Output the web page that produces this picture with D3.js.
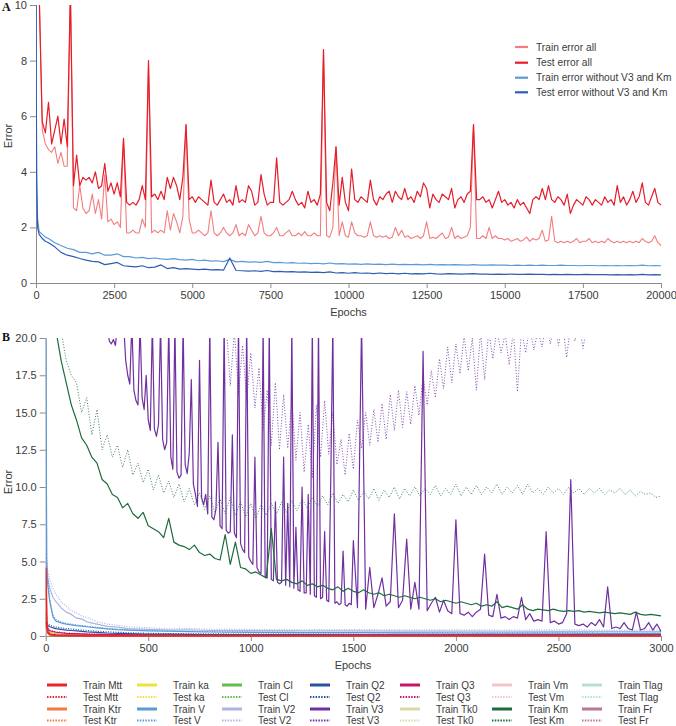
<!DOCTYPE html>
<html><head><meta charset="utf-8">
<script src="https://cdn.jsdelivr.net/npm/d3@7"></script>
<style>
body{margin:0;background:#fff;}
svg{display:block;font-family:"Liberation Sans",Arial,sans-serif;}
</style></head><body>
<svg id="chart" width="676" height="726"></svg>
<script>
// ---------------- Panel A data ----------------
const epochsA = d3.range(100, 20001, 100);
const trainAll = [
 10.5,5.5,5.0,4.8,4.7,4.9,4.3,4.7,4.2,4.2,
 10.5,2.7,2.6,3.5,2.7,2.5,2.6,3.2,2.5,3.0,
 2.3,3.9,2.2,2.3,2.1,2.2,2.0,5.2,1.8,1.8,
 1.9,1.8,1.8,2.3,2.0,7.8,1.8,1.9,1.8,1.9,
 1.8,2.6,1.9,2.5,2.2,1.8,2.4,5.7,2.3,1.8,
 1.8,1.9,1.8,1.7,1.8,2.6,1.8,1.7,1.8,2.0,
 1.8,1.7,1.8,2.1,1.7,1.8,1.7,2.1,1.9,1.7,
 1.8,2.4,1.8,1.7,1.7,1.8,2.0,1.7,1.7,1.8,
 1.9,1.7,1.7,1.8,1.7,1.85,1.7,1.7,1.8,1.7,
 1.7,8.4,1.7,1.65,2.0,4.9,1.7,2.2,1.7,1.65,
 2.2,1.8,1.7,1.7,1.65,1.7,2.2,1.7,1.65,1.7,
 1.65,1.7,1.6,1.65,2.0,1.7,1.9,1.65,1.7,1.6,
 1.65,1.7,1.6,1.7,2.2,1.6,1.65,1.6,1.7,1.8,
 1.6,1.65,2.0,1.6,1.7,1.6,1.65,1.7,2.0,5.7,
 1.6,1.6,1.7,1.6,2.0,1.6,1.7,1.6,1.6,1.55,
 1.6,1.5,1.55,1.6,1.5,1.55,1.65,1.5,1.6,1.55,
 1.6,1.9,1.5,1.55,2.4,1.5,1.45,1.5,1.45,1.5,
 1.45,1.5,1.6,1.45,1.5,1.5,1.6,1.45,1.5,1.45,
 1.5,1.45,1.6,1.5,1.45,1.5,1.45,1.5,1.45,1.5,
 1.45,1.5,1.45,1.6,1.5,1.45,1.5,1.7,1.45,1.35];
const testAll = [
 10.5,5.8,5.4,6.5,5.0,5.5,6.0,5.0,5.9,4.9,
 10.5,3.5,4.6,3.5,3.8,3.7,3.8,3.6,4.0,3.4,
 3.5,4.3,3.3,3.6,3.2,3.6,3.1,5.2,2.9,2.8,
 2.9,2.8,3.0,3.5,3.0,8.0,3.1,3.2,3.0,3.3,
 3.0,3.8,3.4,3.8,3.5,3.0,3.8,5.7,3.0,3.1,
 2.9,3.1,3.0,2.9,2.8,3.7,2.9,2.8,3.0,3.2,
 2.9,3.0,2.8,3.5,2.9,3.0,2.9,3.5,3.3,2.8,
 2.9,3.9,3.2,2.8,2.9,2.9,4.5,2.9,2.8,2.9,
 3.0,3.3,3.0,2.8,2.9,2.7,3.3,2.9,3.0,2.8,
 3.2,8.4,2.9,2.6,3.6,4.9,2.8,3.8,2.9,2.6,
 4.1,3.0,2.9,3.1,3.0,2.9,3.7,3.0,2.8,3.1,
 3.0,3.2,3.3,2.9,3.3,3.1,3.0,3.4,3.0,3.1,
 2.9,3.3,3.1,3.6,3.4,2.7,3.2,3.0,2.9,3.2,
 3.1,3.0,3.4,2.7,3.0,3.1,2.9,3.2,3.3,5.7,
 3.0,3.0,3.1,2.9,3.0,2.7,3.0,3.3,2.9,3.0,
 2.8,2.9,2.7,3.0,2.8,2.9,2.7,2.5,3.0,3.1,
 3.0,3.4,3.0,3.5,3.0,2.9,3.1,3.0,2.8,3.2,
 2.5,2.8,3.0,2.9,2.8,3.1,3.0,2.8,3.0,2.9,
 2.8,3.1,2.9,3.0,2.8,3.5,2.9,3.1,2.8,3.0,
 3.3,2.9,3.1,3.6,2.9,2.8,3.1,3.4,2.9,2.8];
const epochsBlue = [0,20,50,100,200,300].concat(d3.range(400, 20001, 200));
const trainWithout = [
 10.5,4.0,2.3,1.85,1.75,1.65,
 1.6,1.45,1.35,1.25,1.2,1.1,1.1,1.05,1.1,1.0,
 1.0,1.05,0.95,0.95,0.9,0.92,0.88,0.9,0.87,0.85,
 0.88,0.84,0.82,0.85,0.8,0.82,0.79,0.8,0.77,0.85,
 0.76,0.78,0.75,0.76,0.74,0.78,0.73,0.74,0.72,0.73,
 0.71,0.72,0.7,0.71,0.69,0.72,0.69,0.7,0.68,0.69,
 0.67,0.69,0.67,0.68,0.66,0.68,0.66,0.67,0.66,0.67,
 0.65,0.67,0.65,0.66,0.65,0.66,0.65,0.64,0.66,0.64,
 0.64,0.65,0.64,0.64,0.63,0.64,0.63,0.64,0.63,0.64,
 0.63,0.63,0.64,0.63,0.63,0.62,0.63,0.63,0.62,0.63,
 0.62,0.63,0.62,0.63,0.62,0.64,0.62,0.63,0.62];
const testWithout = [
 10.5,3.5,2.0,1.75,1.6,1.5,
 1.45,1.3,1.1,1.0,0.95,0.88,0.82,0.78,0.76,0.66,
 0.7,0.74,0.62,0.6,0.58,0.62,0.55,0.57,0.65,0.52,
 0.55,0.5,0.52,0.5,0.48,0.5,0.47,0.48,0.46,0.9,
 0.45,0.44,0.43,0.44,0.42,0.45,0.41,0.42,0.4,0.41,
 0.39,0.4,0.38,0.39,0.37,0.4,0.36,0.37,0.35,0.37,
 0.35,0.36,0.34,0.36,0.34,0.35,0.33,0.35,0.33,0.34,
 0.33,0.35,0.33,0.32,0.34,0.33,0.32,0.33,0.34,0.32,
 0.32,0.31,0.32,0.31,0.32,0.31,0.31,0.32,0.31,0.31,
 0.3,0.31,0.3,0.31,0.3,0.3,0.31,0.3,0.3,0.3,
 0.29,0.3,0.29,0.3,0.29,0.31,0.29,0.3,0.29];
const xTicksA = [0,2500,5000,7500,10000,12500,15000,17500,20000];
const yTicksA = [0,2,4,6,8,10];
const legendA = ["Train error all","Test error all","Train error without V3 and Km","Test error without V3 and Km"];

// ---------------- Panel B data ----------------
const params = ["Mtt","Ktr","ka","V","Cl","V2","Q2","V3","Q3","Tk0","Vm","Km","Tlag","Fr"];
const xTicksB = [0,500,1000,1500,2000,2500,3000];
const yTicksB = [0,2.5,5,7.5,10,12.5,15,17.5,20];
const gridCoarse = [0,5,10,20,50,100,200,400,800,1500,2200,3000];
const gridFine = [0,5,10,20,35,50,75,100,125,150,175,200,250,300,350,400,500,600,700,800,1000,1250,1500,1750,2000,2250,2500,2750,3000];

const trainMtt = [4.6,0.8,0.25,0.1,0.05,0.03,0.02,0.02,0.02,0.02,0.02,0.02];
const testMtt  = [4.4,1.0,0.3,0.12,0.06,0.04,0.03,0.02,0.02,0.02,0.02,0.02];
const trainKtr = [3.0,0.6,0.2,0.08,0.04,0.03,0.02,0.01,0.01,0.01,0.01,0.01];
const testKtr  = [3.2,0.7,0.22,0.1,0.05,0.03,0.02,0.02,0.01,0.01,0.01,0.01];
const trainKa  = [1.0,0.5,0.3,0.2,0.1,0.05,0.03,0.02,0.01,0.01,0.01,0.01];
const testKa   = [1.1,0.55,0.35,0.22,0.12,0.06,0.04,0.02,0.02,0.01,0.01,0.01];
const trainCl  = [1.5,0.6,0.35,0.2,0.12,0.08,0.05,0.04,0.03,0.03,0.03,0.03];
const testCl   = [1.6,0.65,0.4,0.22,0.14,0.09,0.06,0.05,0.04,0.04,0.04,0.04];
const trainQ3  = [0.9,0.6,0.45,0.35,0.25,0.18,0.12,0.08,0.06,0.05,0.05,0.05];
const testQ3   = [1.0,0.65,0.5,0.38,0.28,0.2,0.14,0.09,0.07,0.06,0.06,0.06];
const trainTk0 = [0.8,0.4,0.25,0.15,0.08,0.05,0.03,0.02,0.02,0.02,0.02,0.02];
const testTk0  = [0.85,0.45,0.28,0.17,0.09,0.06,0.04,0.03,0.02,0.02,0.02,0.02];
const trainVm  = [5.0,1.5,0.6,0.3,0.15,0.1,0.07,0.05,0.04,0.04,0.04,0.04];
const testVm   = [5.2,1.6,0.65,0.32,0.17,0.11,0.08,0.06,0.05,0.05,0.05,0.05];
const trainTlag= [0.6,0.3,0.2,0.12,0.07,0.05,0.03,0.02,0.02,0.02,0.02,0.02];
const testTlag = [0.65,0.32,0.22,0.13,0.08,0.05,0.04,0.03,0.02,0.02,0.02,0.02];
const trainFr  = [0.7,0.4,0.25,0.15,0.1,0.06,0.04,0.03,0.02,0.02,0.02,0.02];
const testFr   = [0.75,0.42,0.27,0.16,0.11,0.07,0.05,0.03,0.03,0.03,0.03,0.03];

const trainV  = [21,5.0,3.4,2.3,1.3,1.0,0.88,0.8,0.75,0.7, 0.66,0.62,0.55,0.48,0.43,0.4,0.35,0.32,0.29,0.27, 0.25,0.23,0.22,0.21,0.2,0.19,0.19,0.18,0.18];
const testV   = [21,5.5,3.8,2.5,1.4,1.1,0.95,0.86,0.8,0.74, 0.7,0.66,0.58,0.5,0.45,0.42,0.37,0.34,0.31,0.29, 0.27,0.25,0.24,0.23,0.22,0.21,0.21,0.2,0.2];
const trainV2 = [5.0,4.3,3.9,3.2,2.6,2.3,1.9,1.6,1.45,1.2, 1.15,0.95,0.8,0.65,0.6,0.5,0.45,0.4,0.42,0.37, 0.36,0.35,0.34,0.33,0.33,0.32,0.31,0.31,0.3];
const testV2  = [5.5,4.8,4.4,3.8,3.2,2.8,2.3,2.0,1.7,1.55, 1.35,1.25,0.95,0.8,0.72,0.62,0.55,0.48,0.5,0.45, 0.44,0.42,0.43,0.41,0.42,0.4,0.41,0.4,0.4];
const trainQ2 = [1.0,0.8,0.7,0.62,0.55,0.5,0.45,0.4,0.37,0.34, 0.31,0.28,0.24,0.2,0.18,0.16,0.13,0.12,0.11,0.1, 0.09,0.09,0.08,0.08,0.08,0.07,0.07,0.07,0.07];
const testQ2  = [1.2,0.9,0.8,0.72,0.65,0.6,0.55,0.5,0.47,0.43, 0.4,0.37,0.32,0.28,0.25,0.22,0.18,0.16,0.15,0.14, 0.13,0.12,0.12,0.11,0.11,0.1,0.1,0.1,0.1];

const epochsKmTrain = d3.range(50, 3001, 25);
const trainKm = [
 20.5,18.5,17.0,15.5,14.5,13.3,12.8,12.0,11.6,10.5,
 10.2,9.5,9.3,8.6,8.9,8.2,7.9,8.3,7.4,7.2,
 7.0,6.6,7.9,6.3,6.1,6.0,5.8,6.1,5.6,5.4,
 5.5,5.2,5.1,6.8,4.8,6.3,4.6,4.5,4.2,4.3,
 4.1,3.9,7.2,3.8,3.7,3.8,3.6,3.5,3.7,3.4,
 3.5,3.3,3.4,3.2,3.1,3.3,3.0,3.2,3.0,2.9,
 3.1,2.9,2.8,2.9,2.7,2.8,2.7,2.6,2.7,2.6,
 2.5,2.6,2.5,2.4,2.5,2.3,2.4,2.3,2.2,2.3,
 2.2,2.1,2.2,2.0,2.1,2.0,2.3,1.9,2.0,1.9,
 1.8,2.1,1.8,1.7,1.8,1.75,1.7,1.8,1.7,1.65,
 1.7,1.65,1.7,1.6,1.65,1.6,1.55,1.6,1.55,1.5,
 1.55,1.5,1.45,1.6,1.45,1.4,1.45,1.4,1.35];
const epochsKmTest = d3.range(75, 3001, 25);
const testKm = [
 20.5,18.5,17.5,17.0,15.0,16.0,13.5,15.2,12.5,13.5,
 12.0,12.8,11.3,12.5,10.8,11.6,10.3,11.2,9.8,10.8,
 9.6,10.4,9.3,10.2,9.0,9.9,8.8,9.6,8.5,9.4,
 8.3,9.2,8.2,9.3,8.1,9.0,8.0,8.9,7.9,8.8,
 8.1,8.9,8.2,9.0,8.3,9.1,8.4,9.2,8.6,9.3,
 8.7,9.4,8.8,9.6,8.9,9.5,9.0,9.8,9.1,9.7,
 9.2,9.9,9.1,9.8,9.3,10.0,9.2,9.9,9.4,10.0,
 9.4,9.9,9.5,10.1,9.4,9.9,9.5,10.2,9.4,10.0,
 9.5,10.1,9.5,10.0,9.6,10.2,9.5,10.0,9.6,10.1,
 9.5,10.2,9.6,9.9,9.5,10.0,9.6,9.9,9.5,10.0,
 9.6,9.9,9.5,9.9,9.6,9.9,9.5,9.8,9.6,9.9,
 9.5,9.8,9.4,9.7,9.5,9.6,9.3,9.4];
const epochsV3Train = d3.range(300, 1501, 10).concat(d3.range(1520, 3001, 20));
const trainV3 = [
 21,19.8,19.6,19.9,19.5,21,21,21,21,18.5,
 17.5,16.9,21,16.5,15.8,15.5,21,16.0,15.2,17.5,
 14.5,13.8,21,13.9,13.4,14.2,21,13.2,12.5,13.0,
 21,12.0,11.2,21,11.0,10.6,10.8,21,11.5,10.9,
 12.3,17.2,10.2,9.5,8.7,18.5,9.3,8.8,9.5,8.2,
 21,8.0,7.8,8.5,13.0,7.4,7.2,21,7.1,6.9,
 7.0,13.5,6.9,6.6,21,6.2,5.8,5.6,21,5.3,
 5.0,4.8,12.0,4.6,4.3,4.2,21,4.0,3.9,21,
 3.8,3.7,9.0,3.6,3.5,3.6,12.0,3.4,8.9,3.3,
 21,3.2,7.3,3.1,3.0,10.0,2.9,2.9,9.5,2.8,
 21,2.7,2.6,21,2.5,2.6,7.0,2.4,2.3,10.6,
 21,2.2,2.3,2.1,2.2,5.7,2.1,2.0,2.2,2.1,
 6.4,
 1.9,21,1.8,4.6,1.9,2.8,3.9,2.0,2.3,8.2,
 1.9,2.4,6.5,1.8,3.6,1.8,19.1,1.7,2.2,2.6,
 1.6,2.4,1.7,1.5,7.8,1.5,1.4,1.6,1.3,1.6,
 1.8,5.5,1.4,1.3,2.8,1.2,1.3,1.1,1.3,1.2,
 2.6,1.1,1.5,1.0,1.1,1.0,7.0,0.9,1.0,0.8,
 0.9,1.5,10.5,0.8,0.7,0.8,0.6,0.9,0.7,1.1,
 0.6,3.3,0.5,0.6,0.5,0.9,0.5,0.4,1.6,0.4,
 0.5,0.9,0.4,0.8,0.3];
const epochsV3Test = d3.range(880, 2781, 20);
const testV3 = [
 21,16.8,20.5,16.2,19.5,15.8,19.0,15.3,18.0,13.8,16.5,12.8,17.0,12.5,16.2,12.6,15.8,11.8,15.0,11.0,
 14.2,10.6,15.5,12.0,15.8,12.2,15.0,11.5,13.2,10.8,13.6,11.2,14.5,12.6,15.0,12.8,15.2,13.0,15.6,13.2,
 16.2,13.8,16.5,14.0,16.4,14.2,16.8,14.8,17.4,15.5,17.8,16.0,18.6,16.6,19.4,17.0,19.6,17.6,20.2,17.8,
 20.0,16.5,20.4,17.2,20.5,18.6,20.6,19.0,20.3,18.2,20.5,16.4,20.6,19.0,20.8,19.2,20.5,19.4,21.0,19.6,
 21.0,19.5,21.0,18.7,21.0,19.8,21.0,19.3,21.0,20.5,21.0,20.0,21.0,20.2,21.0,21.0];

const legendColX = [47,137,222,310,400,492,582];

// ---------------- Drawing ----------------
const svg = d3.select("#chart");
const AX = "#8c8c8c", TX = "#3a3a3a";
const defs = svg.append("defs");
defs.append("clipPath").attr("id","clipA").append("rect").attr("x",36).attr("y",5).attr("width",626).attr("height",281);
defs.append("clipPath").attr("id","clipB").append("rect").attr("x",45.7).attr("y",338).attr("width",616).attr("height",301);

function styleAxis(g){
  g.attr("font-family",null).attr("font-size",null);
  g.select(".domain").attr("stroke",AX);
  g.selectAll(".tick line").attr("stroke",AX);
  g.selectAll(".tick text").attr("fill",TX).style("font-size","11px");
}

// Panel A
const xA = d3.scaleLinear().domain([0,20000]).range([36,661]);
const yA = d3.scaleLinear().domain([0,10]).range([283,5]);
svg.append("g").attr("transform","translate(0,283)")
  .call(d3.axisBottom(xA).tickValues(xTicksA).tickFormat(d3.format("d")).tickSize(5).tickSizeOuter(0).tickPadding(3)).call(styleAxis);
svg.append("g").attr("transform","translate(36,0)")
  .call(d3.axisLeft(yA).tickValues(yTicksA).tickFormat(d3.format("d")).tickSize(6).tickSizeOuter(0).tickPadding(3)).call(styleAxis);
const lineA = d3.line().x(d=>xA(d[0])).y(d=>yA(d[1]));
const seriesA = [
  {e:epochsA, v:trainAll, c:"#f47c7e", w:1.1},
  {e:epochsA, v:testAll, c:"#e51e2a", w:1.2},
  {e:epochsBlue, v:trainWithout, c:"#5b9bd5", w:1.2},
  {e:epochsBlue, v:testWithout, c:"#2f5db3", w:1.2}
];
const gA = svg.append("g").attr("clip-path","url(#clipA)");
seriesA.forEach(s=>{
  gA.append("path").datum(d3.zip(s.e,s.v)).attr("d",lineA)
    .attr("fill","none").attr("stroke",s.c).attr("stroke-width",s.w).attr("stroke-linejoin","round");
});
const legAColors = ["#f47c7e","#e51e2a","#5b9bd5","#2f5db3"];
const legARows = [47,62.7,77.7,92.3];
legendA.forEach((t,i)=>{
  svg.append("line").attr("x1",515).attr("x2",528).attr("y1",legARows[i]).attr("y2",legARows[i])
    .attr("stroke",legAColors[i]).attr("stroke-width",2.2);
  svg.append("text").attr("x",536).attr("y",legARows[i]).attr("dy","0.35em")
    .style("font-size","10.2px").attr("fill",TX).text(t);
});
svg.append("text").attr("transform","translate(12,136) rotate(-90)").attr("text-anchor","middle")
  .style("font-size","11px").attr("fill",TX).text("Error");
svg.append("text").attr("x",348.5).attr("y",316).attr("text-anchor","middle")
  .style("font-size","11px").attr("fill",TX).text("Epochs");
svg.append("text").attr("x",2).attr("y",11).style("font-family","'Liberation Serif','Times New Roman',serif")
  .style("font-weight","bold").style("font-size","12px").attr("fill","#111").text("A");

// Panel B
const xB = d3.scaleLinear().domain([0,3000]).range([45.7,661]);
const yB = d3.scaleLinear().domain([0,20]).range([636,338]);
svg.append("g").attr("transform","translate(0,636)")
  .call(d3.axisBottom(xB).tickValues(xTicksB).tickFormat(d3.format("d")).tickSize(5).tickSizeOuter(0).tickPadding(3)).call(styleAxis);
svg.append("g").attr("transform","translate(45.7,0)")
  .call(d3.axisLeft(yB).tickValues(yTicksB).tickFormat(d=>d===0?"0":d3.format(".1f")(d)).tickSize(6).tickSizeOuter(0).tickPadding(3)).call(styleAxis);

const colors = {Mtt:"#e8262b",Ktr:"#f47a3c",ka:"#efe23a",V:"#5b9bd5",Cl:"#66bb4f",V2:"#aeb3e2",Q2:"#2a52a0",
  V3:"#7030a0",Q3:"#cc1466",Tk0:"#dcd8a6",Vm:"#f7c4c6",Km:"#1e6b3f",Tlag:"#b5e3d3",Fr:"#b5789b"};
const dataB = {
  Mtt:[gridCoarse,trainMtt,gridCoarse,testMtt],
  Ktr:[gridCoarse,trainKtr,gridCoarse,testKtr],
  ka:[gridCoarse,trainKa,gridCoarse,testKa],
  V:[gridFine,trainV,gridFine,testV],
  Cl:[gridCoarse,trainCl,gridCoarse,testCl],
  V2:[gridFine,trainV2,gridFine,testV2],
  Q2:[gridFine,trainQ2,gridFine,testQ2],
  V3:[epochsV3Train,trainV3,epochsV3Test,testV3],
  Q3:[gridCoarse,trainQ3,gridCoarse,testQ3],
  Tk0:[gridCoarse,trainTk0,gridCoarse,testTk0],
  Vm:[gridCoarse,trainVm,gridCoarse,testVm],
  Km:[epochsKmTrain,trainKm,epochsKmTest,testKm],
  Tlag:[gridCoarse,trainTlag,gridCoarse,testTlag],
  Fr:[gridCoarse,trainFr,gridCoarse,testFr]
};
const lineB = d3.line().x(d=>xB(d[0])).y(d=>yB(d[1]));
const gB = svg.append("g").attr("clip-path","url(#clipB)");
const drawOrder = ["Tk0","Vm","Tlag","Fr","Cl","ka","Ktr","Q3","V2","V","Q2","V3","Km","Mtt"];
drawOrder.forEach(p=>{
  const [e1,v1,e2,v2] = dataB[p];
  const big = (p==="V3"||p==="Km");
  gB.append("path").datum(d3.zip(e2,v2)).attr("d",lineB).attr("fill","none")
    .attr("stroke",colors[p]).attr("stroke-width",big?1:1.2).attr("stroke-dasharray",big?"1,1.8":"1,1.5")
    .attr("stroke-opacity",big?0.85:1);
  gB.append("path").datum(d3.zip(e1,v1)).attr("d",lineB).attr("fill","none")
    .attr("stroke",colors[p]).attr("stroke-width",p==="Mtt"?2:1.2).attr("stroke-linejoin","round");
});
svg.append("text").attr("transform","translate(12,482) rotate(-90)").attr("text-anchor","middle")
  .style("font-size","11px").attr("fill",TX).text("Error");
svg.append("text").attr("x",353).attr("y",669).attr("text-anchor","middle")
  .style("font-size","11px").attr("fill",TX).text("Epochs");
svg.append("text").attr("x",2).attr("y",341).style("font-family","'Liberation Serif','Times New Roman',serif")
  .style("font-weight","bold").style("font-size","12px").attr("fill","#111").text("B");

// Legend B (column-major: 2 params per column, Train/Test each)
const legRows = [685,697,709,720.5];
params.forEach((p,i)=>{
  const col = Math.floor(i/2), sub = i%2;
  ["Train","Test"].forEach((kind,k)=>{
    const y = legRows[sub*2+k], x0 = legendColX[col];
    svg.append("line").attr("x1",x0).attr("x2",x0+20).attr("y1",y).attr("y2",y)
      .attr("stroke",colors[p]).attr("stroke-width",kind==="Train"?3:2)
      .attr("stroke-dasharray",kind==="Train"?null:"1.5,1.3");
    svg.append("text").attr("x",x0+36).attr("y",y).attr("dy","0.35em")
      .style("font-size","10px").attr("fill",TX).text(kind+" "+p);
  });
});
</script></body></html>
